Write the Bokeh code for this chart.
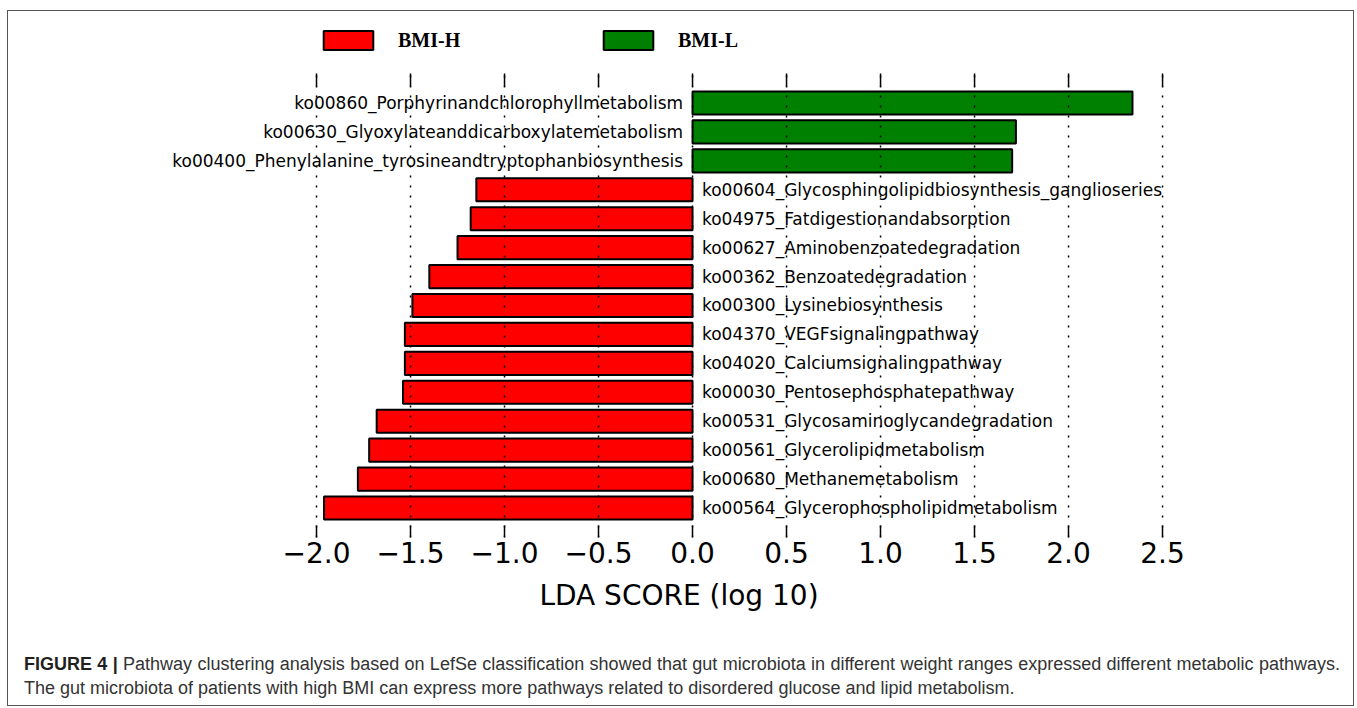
import numpy as np
from bokeh.plotting import figure
from bokeh.models import (ColumnDataSource, FixedTicker, LinearAxis, Legend,
                          LegendItem, Div, Range1d)
from bokeh.layouts import column
from bokeh.core.properties import value
from bokeh.embed import file_html
from bokeh.resources import INLINE

# ---------------- data ----------------
pathways = [
    "ko00860_Porphyrinandchlorophyllmetabolism",
    "ko00630_Glyoxylateanddicarboxylatemetabolism",
    "ko00400_Phenylalanine_tyrosineandtryptophanbiosynthesis",
    "ko00604_Glycosphingolipidbiosynthesis_ganglioseries",
    "ko04975_Fatdigestionandabsorption",
    "ko00627_Aminobenzoatedegradation",
    "ko00362_Benzoatedegradation",
    "ko00300_Lysinebiosynthesis",
    "ko04370_VEGFsignalingpathway",
    "ko04020_Calciumsignalingpathway",
    "ko00030_Pentosephosphatepathway",
    "ko00531_Glycosaminoglycandegradation",
    "ko00561_Glycerolipidmetabolism",
    "ko00680_Methanemetabolism",
    "ko00564_Glycerophospholipidmetabolism",
]
lda_scores = [2.34, 1.72, 1.70, -1.15, -1.18, -1.25, -1.40, -1.49, -1.53,
              -1.53, -1.54, -1.68, -1.72, -1.78, -1.96]
tick_values = [-2.0, -1.5, -1.0, -0.5, 0.0, 0.5, 1.0, 1.5, 2.0, 2.5]
tick_labels = ["\u22122.0", "\u22121.5", "\u22121.0", "\u22120.5", "0.0",
               "0.5", "1.0", "1.5", "2.0", "2.5"]
legend_labels = ["BMI-H", "BMI-L"]
x_label = "LDA SCORE (log 10)"
caption_bold = "FIGURE 4 |"
caption_line1 = ("Pathway clustering analysis based on LefSe classification showed that gut "
                 "microbiota in different weight ranges expressed different metabolic pathways.")
caption_line2 = ("The gut microbiota of patients with high BMI can express more pathways related "
                 "to disordered glucose and lipid metabolism.")

# ---------------- build ----------------
n = len(pathways)
scores = np.array(lda_scores)
ypos = np.arange(n)[::-1].astype(float)
label_x = np.where(scores > 0, -0.05, 0.05)
label_align = np.where(scores > 0, "right", "left")

y_lo = -1.02                 # bottom of the dotted grid (frame bottom)
y_hi = (n - 1) + 1.02        # top of the dotted grid / top ticks
tick_len = 13 / 28.93        # top tick length in data units

src_h = ColumnDataSource(dict(y=ypos[scores < 0], v=scores[scores < 0]))
src_l = ColumnDataSource(dict(y=ypos[scores > 0], v=scores[scores > 0]))
src_t = ColumnDataSource(dict(x=label_x, y=ypos, t=pathways, a=label_align))
src_g = ColumnDataSource(dict(x=tick_values,
                              y0=[y_lo] * len(tick_values),
                              y1=[y_hi] * len(tick_values),
                              yt=[y_hi - tick_len] * len(tick_values)))

W, H = 1345, 612
p = figure(width=W, height=H, output_backend="svg", toolbar_location=None,
           x_range=Range1d(-2.766, 2.622), y_range=Range1d(y_lo, 16.852),
           x_axis_location=None, y_axis_location=None,
           min_border_left=164, min_border_right=168,
           min_border_top=9, min_border_bottom=86)
p.outline_line_color = None
p.background_fill_color = "white"
p.border_fill_color = "white"
p.xgrid.grid_line_color = None
p.ygrid.grid_line_color = None

rh = p.hbar(y="y", left=0, right="v", height=0.8, source=src_h,
            fill_color="#FF0000", line_color="black", line_width=2)
rl = p.hbar(y="y", left=0, right="v", height=0.8, source=src_l,
            fill_color="#008000", line_color="black", line_width=2)

p.text(x="x", y="y", text="t", text_align="a", source=src_t,
       text_baseline="middle", text_font=value("DejaVu Sans"),
       text_font_size="17px", text_color="black")

# dotted vertical grid drawn over bars and labels, plus top tick marks
p.segment(x0="x", y0="y0", x1="x", y1="y1", source=src_g,
          line_color="black", line_width=1.5, line_dash="2 8")
p.segment(x0="x", y0="yt", x1="x", y1="y1", source=src_g,
          line_color="black", line_width=1.5)

ticker = FixedTicker(ticks=tick_values)
overrides = {v: l for v, l in zip(tick_values, tick_labels)}

xb = LinearAxis(ticker=ticker, axis_label=x_label)
xb.major_label_overrides = overrides
xb.axis_line_color = None
xb.major_tick_in = 12
xb.major_tick_out = 0
xb.major_tick_line_width = 1.5
xb.major_tick_line_color = "black"
xb.minor_tick_line_color = None
xb.major_label_text_font = "DejaVu Sans"
xb.major_label_text_font_size = "28px"
xb.major_label_text_color = "black"
xb.major_label_standoff = 4
xb.axis_label_text_font = "DejaVu Sans"
xb.axis_label_text_font_size = "28px"
xb.axis_label_text_font_style = "normal"
xb.axis_label_text_color = "black"
xb.axis_label_standoff = 13
p.add_layout(xb, "below")

legend = Legend(items=[LegendItem(label=legend_labels[0], renderers=[rh]),
                       LegendItem(label=legend_labels[1], renderers=[rl])],
                orientation="horizontal", location=(145, 485),
                padding=0, margin=0, spacing=0,
                glyph_width=62, glyph_height=24, label_width=199,
                label_height=20, label_standoff=19,
                border_line_alpha=0, background_fill_alpha=0,
                label_text_font="Liberation Serif",
                label_text_font_style="bold",
                label_text_color="black",
                label_text_font_size="20px")
p.add_layout(legend, "center")

cap = Div(text=(f"<div style='width:1316px;text-align:justify;text-align-last:justify'>"
                f"<b style='color:#231f20'>{caption_bold}</b> {caption_line1}</div>"
                f"<div style='white-space:nowrap'>{caption_line2}</div>"),
          width=W, height=82, margin=0,
          styles={"font-family": "'Liberation Sans', Arial, sans-serif",
                  "font-size": "18px",
                  "color": "#333", "line-height": "24px",
                  "overflow": "hidden",
                  "padding-left": "16px",
                  "padding-top": "29px", "box-sizing": "border-box"})

lay = column(p, cap, styles={"border": "1px solid #555",
                             "margin-left": "7px", "margin-top": "10px"})
open("out.html", "w").write(file_html(lay, INLINE))
